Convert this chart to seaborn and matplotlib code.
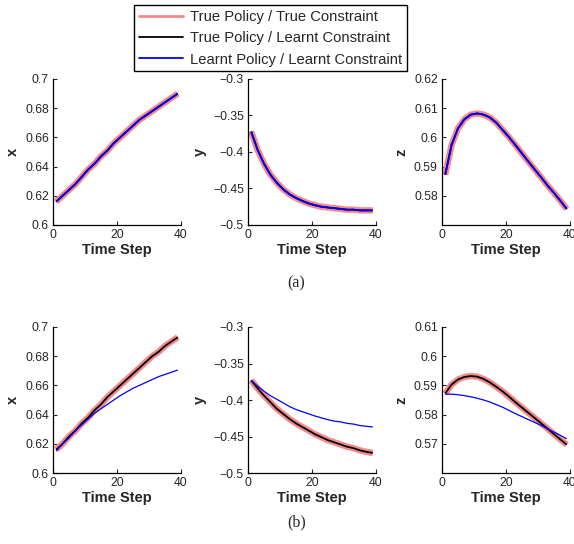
import numpy as np
import pandas as pd
import matplotlib
matplotlib.use("Agg")
import matplotlib.pyplot as plt
from matplotlib.lines import Line2D
import seaborn as sns

# time steps (sampled every 2 steps)
time_steps = [1, 3, 5, 7, 9, 11, 13, 15, 17, 19, 21, 23, 25, 27, 29, 31, 33, 35, 37, 39]

# row (a): all three series coincide
a_x = [0.616, 0.620, 0.624, 0.628, 0.633, 0.638, 0.642, 0.647, 0.651, 0.656,
       0.660, 0.664, 0.668, 0.672, 0.675, 0.678, 0.681, 0.684, 0.687, 0.690]
a_y = [-0.372, -0.397, -0.416, -0.431, -0.442, -0.451, -0.458, -0.463, -0.467, -0.4705,
       -0.473, -0.475, -0.476, -0.477, -0.478, -0.479, -0.479, -0.480, -0.480, -0.480]
a_z = [0.5872, 0.5974, 0.6031, 0.6062, 0.6078, 0.6082, 0.6078, 0.6068, 0.6050, 0.6025,
       0.6000, 0.5973, 0.5945, 0.5917, 0.5890, 0.5863, 0.5835, 0.5810, 0.5783, 0.5755]

# row (b): true policy (red / black) vs learnt policy (blue)
b_x_true = [0.616, 0.620, 0.625, 0.629, 0.634, 0.638, 0.643, 0.647, 0.652, 0.656,
            0.660, 0.664, 0.668, 0.672, 0.676, 0.680, 0.683, 0.687, 0.690, 0.693]
b_x_learnt = [0.615, 0.620, 0.624, 0.629, 0.633, 0.637, 0.641, 0.644, 0.647, 0.650,
              0.653, 0.6555, 0.658, 0.660, 0.662, 0.664, 0.666, 0.6675, 0.669, 0.6705]
b_y_true = [-0.373, -0.384, -0.394, -0.403, -0.412, -0.419, -0.426, -0.432, -0.437, -0.442,
            -0.447, -0.451, -0.455, -0.458, -0.461, -0.464, -0.466, -0.469, -0.471, -0.4725]
b_y_learnt = [-0.373, -0.381, -0.388, -0.394, -0.399, -0.404, -0.409, -0.413, -0.416, -0.419,
              -0.422, -0.4245, -0.427, -0.429, -0.430, -0.432, -0.433, -0.435, -0.436, -0.437]
b_z_true = [0.5872, 0.5903, 0.5920, 0.5929, 0.5932, 0.5930, 0.5922, 0.5910, 0.5895, 0.5879,
            0.5861, 0.5842, 0.5824, 0.5806, 0.5788, 0.5770, 0.5752, 0.5733, 0.5715, 0.5697]
b_z_learnt = [0.5870, 0.5870, 0.5868, 0.5865, 0.5861, 0.5856, 0.5850, 0.5843, 0.5834, 0.5825,
              0.5814, 0.5803, 0.5793, 0.5783, 0.5773, 0.5763, 0.5751, 0.5740, 0.5729, 0.5717]

series_labels = ["True Policy / True Constraint",
                 "True Policy / Learnt Constraint",
                 "Learnt Policy / Learnt Constraint"]

RED = "#f58a8a"

sns.set_style("ticks")
plt.rcParams['font.family'] = ['Liberation Sans', 'DejaVu Sans']

fig = plt.figure(figsize=(5.74, 5.44), dpi=100)

lefts = [0.0923, 0.432, 0.770]
bottoms = [0.5864, 0.1305]
w, h = 0.223, 0.2684

rows = [
    [(a_x, a_x, a_x), (a_y, a_y, a_y), (a_z, a_z, a_z)],
    [(b_x_true, b_x_true, b_x_learnt), (b_y_true, b_y_true, b_y_learnt),
     (b_z_true, b_z_true, b_z_learnt)],
]
ylims = [
    [(0.6, 0.7), (-0.5, -0.3), (0.57, 0.62)],
    [(0.6, 0.7), (-0.5, -0.3), (0.56, 0.61)],
]
yticks = [
    [[0.6, 0.62, 0.64, 0.66, 0.68, 0.7], [-0.5, -0.45, -0.4, -0.35, -0.3], [0.58, 0.59, 0.6, 0.61, 0.62]],
    [[0.6, 0.62, 0.64, 0.66, 0.68, 0.7], [-0.5, -0.45, -0.4, -0.35, -0.3], [0.57, 0.58, 0.59, 0.6, 0.61]],
]
names = ["x", "y", "z"]

line_kw = dict(solid_joinstyle="round", solid_capstyle="butt", legend=False)

for r in range(2):
    for c in range(3):
        ax = fig.add_axes([lefts[c], bottoms[r], w, h])
        red, black, blue = rows[r][c]
        df = pd.DataFrame({"t": time_steps, "red": red, "black": black, "blue": blue})
        sns.lineplot(data=df, x="t", y="red", ax=ax, color=RED, linewidth=4.6, **line_kw)
        sns.lineplot(data=df, x="t", y="black", ax=ax, color="black", linewidth=1.3, **line_kw)
        sns.lineplot(data=df, x="t", y="blue", ax=ax, color="blue",
                     linewidth=1.3 if r == 0 else 0.9, **line_kw)
        ax.set_xlim(0, 40)
        ax.set_xticks([0, 20, 40])
        ax.set_ylim(*ylims[r][c])
        ax.set_yticks(yticks[r][c])
        ax.set_yticklabels([f"{v:g}".replace("-", "\u2212") for v in yticks[r][c]])
        ax.tick_params(direction="in", length=3, width=0.8, labelsize=8.8, pad=3)
        ax.set_xlabel("Time Step", fontsize=10.5, fontweight="bold", labelpad=1)
        ax.set_ylabel(names[c], fontsize=10.5, fontweight="bold", labelpad=4)
        for s in ["top", "right"]:
            ax.spines[s].set_visible(False)
        for s in ["left", "bottom"]:
            ax.spines[s].set_linewidth(0.9)
            ax.spines[s].set_color("black")

handles = [Line2D([], [], color=RED, lw=2.0),
           Line2D([], [], color="black", lw=1.3),
           Line2D([], [], color="blue", lw=1.3)]
leg = fig.legend(handles, series_labels, loc="upper center", bbox_to_anchor=(0.4715, 0.99),
                 fontsize=10.6, fancybox=False, edgecolor="black", framealpha=1,
                 handlelength=3.0, borderpad=0.3, labelspacing=0.5, handletextpad=0.5,
                 borderaxespad=0)
leg.get_frame().set_linewidth(1.0)

fig.text(0.516, 1 - 283 / 544, "(a)", ha="center", va="center", fontsize=11.5,
         family=["Liberation Serif", "DejaVu Serif"])
fig.text(0.516, 1 - 522 / 544, "(b)", ha="center", va="center", fontsize=11.5,
         family=["Liberation Serif", "DejaVu Serif"])

fig.savefig("out.png", dpi=100)
